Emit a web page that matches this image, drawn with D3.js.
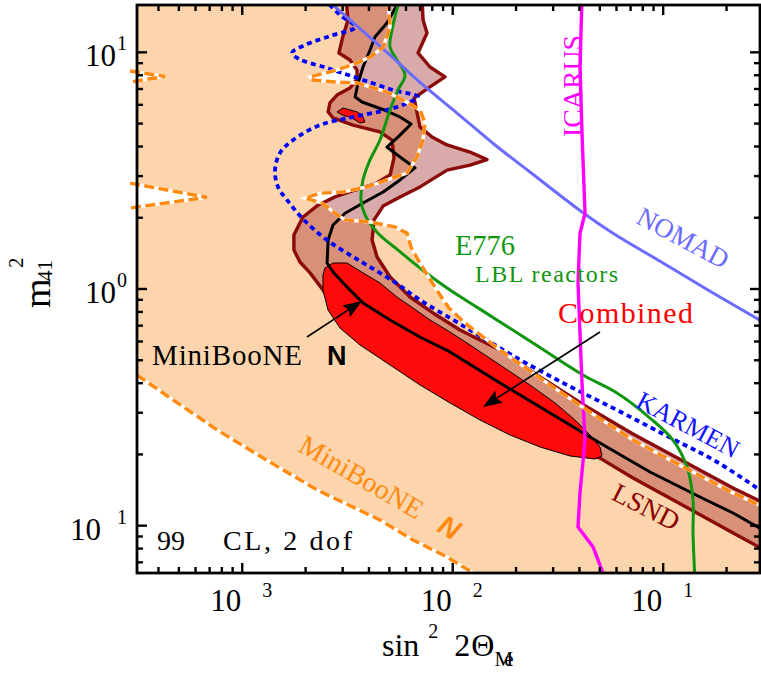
<!DOCTYPE html>
<html><head><meta charset="utf-8">
<script src="https://cdn.jsdelivr.net/npm/d3@7"></script>
<style>
body{margin:0;background:#fff}
svg{display:block}
text{font-family:"Liberation Serif","Times New Roman",serif}
</style>
</head><body><svg id="c" width="761" height="679" font-family="Liberation Serif, Times New Roman, serif"></svg>
<script>
// ---------------- DATA: [sin^2 2theta, dm^2_41] ----------------
const mbLower = [[3.16e-4,0.433],[4.69e-4,0.340],[7.59e-4,0.254],[1.31e-3,0.189],[2.27e-3,0.1415],[4.51e-3,0.1057],[6.48e-3,0.0870],[9.40e-3,0.0737],[1.25e-2,0.0631],[1.50e-2,0.0561]];
const mbUpper = [[4.93e-3,16.6],[5.04e-3,12.8],[4.67e-3,10.5],[4.05e-3,9.56],[3.51e-3,9.01],[2.82e-3,8.42],[2.10e-3,7.87],[2.17e-3,7.64],[2.82e-3,7.49],[3.51e-3,7.42],[4.05e-3,7.14],[4.87e-3,6.80],[5.80e-3,6.29],[6.99e-3,5.71],[7.39e-3,5.03],[7.22e-3,4.26],[6.77e-3,3.61],[6.07e-3,3.09],[4.87e-3,2.89],[3.92e-3,2.70],[3.01e-3,2.57],[2.34e-3,2.54],[1.99e-3,2.42],[2.39e-3,2.31],[2.76e-3,2.09],[3.08e-3,1.96],[4.05e-3,1.92],[5.32e-3,1.83],[6.07e-3,1.72],[6.34e-3,1.50],[6.84e-3,1.33],[7.47e-3,1.17],[8.51e-3,0.971],[9.60e-3,0.831],[1.144e-2,0.718],[1.456e-2,0.609],[1.678e-2,0.552],[2.81e-2,0.401],[4.35e-2,0.308],[7.19e-2,0.230],[0.1243,0.177],[0.2147,0.1375],[0.322,0.1165]];
const mbNotch1 = [[2.93e-4,8.34],[4.30e-4,7.91],[2.93e-4,7.49]];
const mbNotch2 = [[2.93e-4,2.80],[6.80e-4,2.44],[2.93e-4,2.20]];

const lsndOuter = [[3.11e-3,16.96],[3.18e-3,13.7],[3.01e-3,11.7],[2.88e-3,9.94],[3.25e-3,9.28],[3.51e-3,8.42],[3.51e-3,7.72],[3.25e-3,7.07],[2.82e-3,6.60],[2.61e-3,6.11],[2.56e-3,5.60],[2.70e-3,5.28],[3.36e-3,4.93],[4.51e-3,4.61],[5.15e-3,4.26],[5.26e-3,3.58],[5.04e-3,3.03],[4.27e-3,2.78],[3.44e-3,2.62],[2.76e-3,2.45],[2.29e-3,2.26],[1.94e-3,2.01],[1.76e-3,1.69],[1.76e-3,1.46],[1.88e-3,1.30],[2.10e-3,1.17],[2.42e-3,0.99],[2.67e-3,0.856],[3.63e-3,0.671],[5.62e-3,0.526],[9.71e-3,0.393],[1.68e-2,0.2935],[2.90e-2,0.230],[5.01e-2,0.193],[7.19e-2,0.159],[0.124,0.122],[0.215,0.0931],[0.322,0.0766]];
const lsndInner = [[7.15e-3,16.96],[7.23e-3,13.7],[7.55e-3,12.07],[6.84e-3,9.94],[7.80e-3,8.67],[9.19e-3,7.87],[7.80e-3,7.14],[6.55e-3,6.41],[6.99e-3,4.84],[7.97e-3,4.39],[9.40e-3,4.06],[1.208e-2,3.79],[1.456e-2,3.52],[1.208e-2,3.34],[9.40e-3,3.18],[6.99e-3,2.70],[5.62e-3,2.45],[4.67e-3,2.24],[4.23e-3,1.96],[4.14e-3,1.61],[4.37e-3,1.365],[5.04e-3,1.124],[6.27e-3,0.925],[8.06e-3,0.792],[1.083e-2,0.671],[1.678e-2,0.552],[2.60e-2,0.425],[4.35e-2,0.3173],[7.19e-2,0.244],[0.1243,0.1877],[0.2147,0.1443],[0.322,0.1211]];

const combined = [[2.473e-3,1.227],[2.70e-3,1.288],[3.145e-3,1.288],[3.748e-3,1.17],[4.513e-3,1.060],[5.437e-3,0.925],[6.478e-3,0.831],[7.80e-3,0.740],[9.709e-3,0.658],[1.208e-2,0.580],[1.678e-2,0.4775],[2.329e-2,0.393],[3.063e-2,0.330],[3.811e-2,0.2796],[4.490e-2,0.2416],[5.009e-2,0.2150],[5.120e-2,0.1970],[4.745e-2,0.1913],[3.608e-2,0.1970],[2.599e-2,0.2150],[1.872e-2,0.2416],[1.348e-2,0.2796],[9.709e-3,0.330],[6.993e-3,0.393],[5.036e-3,0.4775],[3.627e-3,0.580],[2.914e-3,0.684],[2.556e-3,0.815],[2.419e-3,0.990],[2.419e-3,1.146]];
const combinedIsland = [[2.821e-3,5.60],[3.011e-3,5.82],[3.511e-3,5.60],[3.708e-3,5.44],[3.830e-3,5.08],[3.627e-3,5.03],[3.323e-3,5.28],[2.978e-3,5.44]];

const lsndBest = [[5.50e-3,16.96],[5.44e-3,15.85],[4.87e-3,13.30],[4.27e-3,11.61],[4.05e-3,10.23],[3.75e-3,8.67],[3.55e-3,7.42],[3.44e-3,6.48],[3.71e-3,6.17],[4.87e-3,5.65],[5.62e-3,5.33],[6.34e-3,4.98],[5.62e-3,4.47],[4.87e-3,3.98],[5.62e-3,3.61],[6.62e-3,3.25],[5.62e-3,2.89],[4.67e-3,2.57],[3.75e-3,2.31],[3.08e-3,2.09],[2.70e-3,1.864],[2.56e-3,1.61],[2.53e-3,1.288],[2.70e-3,1.18],[3.145e-3,1.02],[3.75e-3,0.873],[5.04e-3,0.740],[6.99e-3,0.627],[9.71e-3,0.542],[1.678e-2,0.401],[2.90e-2,0.2993],[5.01e-2,0.2235],[8.66e-2,0.1686],[0.1496,0.1322],[0.2147,0.1131],[0.322,0.0922]];

const karmen = [[2.419e-3,16.96],[2.914e-3,14.38],[3.435e-3,12.8],[2.612e-3,11.72],[1.987e-3,10.74],[1.724e-3,9.94],[1.861e-3,9.37],[2.527e-3,8.59],[3.627e-3,7.72],[5.204e-3,6.93],[6.842e-3,6.48],[5.933e-3,6.05],[4.873e-3,5.71],[3.360e-3,5.33],[2.342e-3,4.93],[1.743e-3,4.26],[1.512e-3,3.76],[1.431e-3,3.18],[1.479e-3,2.70],[1.632e-3,2.38],[1.944e-3,1.976],[2.527e-3,1.61],[3.627e-3,1.313],[5.204e-3,1.081],[6.993e-3,0.899],[1.169e-2,0.684],[2.020e-2,0.511],[3.491e-2,0.393],[6.034e-2,0.308],[0.1043,0.2392],[0.1803,0.1858],[0.322,0.1322]];
const nomad = [[2.473e-3,16.96],[3.549e-3,12.8],[5.036e-3,9.74],[7.225e-3,7.28],[1.048e-2,5.54],[1.589e-2,4.06],[2.329e-2,3.12],[4.114e-2,2.115],[5.775e-2,1.72],[9.98e-2,1.288],[0.1725,0.962],[0.322,0.698]];
const e776 = [[5.618e-3,16.96],[5.147e-3,12.43],[5.036e-3,10.53],[5.437e-3,9.28],[5.933e-3,8.02],[5.497e-3,6.93],[5.036e-3,5.71],[4.513e-3,4.26],[4.046e-3,3.51],[3.748e-3,2.89],[3.667e-3,2.38],[3.830e-3,2.055],[4.416e-3,1.72],[5.497e-3,1.46],[7.386e-3,1.18],[9.709e-3,0.990],[1.276e-2,0.848],[1.678e-2,0.726],[2.407e-2,0.591],[4.159e-2,0.433],[6.034e-2,0.3636],[8.657e-2,0.285],[0.1113,0.230],[0.1298,0.1770],[0.1386,0.1284],[0.1386,0.0931],[0.1416,0.0589]];
const icarus = [[4.114e-2,16.96],[4.025e-2,8.67],[4.114e-2,4.56],[4.253e-2,2.09],[4.025e-2,1.72],[3.938e-2,1.060],[4.025e-2,0.652],[4.114e-2,0.401],[4.253e-2,0.230],[4.025e-2,0.1375],[3.938e-2,0.0988],[4.642e-2,0.0813],[5.177e-2,0.0631],[5.35e-2,0.0589]];

// tick labels (exponent text as printed; minus glyph not shown in the original)
const xTickValues = [1e-3, 1e-2, 1e-1];
const xTickExp = ["3", "2", "1"];
const yTickValues = [0.1, 1, 10];
const yTickExp = ["1", "0", "1"];
const yTickNeg = [true, false, false];

// labels placed in data coordinates
const labels = [
  {t:"ICARUS", x:3.728e-2, y:7.21, rot:-90, size:28, fill:"#ff00ff", len:102},
  {t:"NOMAD", x:0.1243, y:1.643, rot:28, size:27, fill:"#6b6bff", len:100},
  {t:"KARMEN", x:0.1312, y:0.2664, rot:28, size:26, fill:"#1212ff", len:112},
  {t:"LSND", x:8.29e-2, y:0.1199, rot:27, size:27, fill:"#8b0000", len:72}
];
const arrows = [
  {from:[2.031e-3,0.627], to:[3.708e-3,0.890]},
  {from:[5.009e-2,0.658], to:[1.393e-2,0.3173]}
];

// ---------------- CHART ----------------
const svg = d3.select("#c");
const L=137, R=760, T=5, B=573;
const x = d3.scaleLog().domain([Math.pow(10,-3.5), 0.2884]).range([L,R]);
const y = d3.scaleLog().domain([Math.pow(10,-1.2), Math.pow(10,1.2)]).range([B,T]);
const line = d3.line().x(d=>x(d[0])).y(d=>y(d[1]));
const smooth = d3.line().x(d=>x(d[0])).y(d=>y(d[1])).curve(d3.curveCatmullRom.alpha(0.5));

const defs = svg.append("defs");
defs.append("clipPath").attr("id","clip").append("rect").attr("x",L).attr("y",T).attr("width",R-L).attr("height",B-T);
defs.append("clipPath").attr("id","clipw").append("rect").attr("x",L-8).attr("y",T).attr("width",R-L+8).attr("height",B-T);

const g = svg.append("g").attr("clip-path","url(#clip)");
const gw = svg.append("g").attr("clip-path","url(#clipw)");

// MiniBooNE antineutrino allowed region (peach)
const peach = [[2.93e-4,17]].concat(mbUpper, [[0.322,0.05]], mbLower.slice().reverse(), mbNotch2.slice().reverse(), mbNotch1.slice().reverse());
g.append("path").attr("d", line(peach)+"Z").attr("fill","#fdd5ac");

// orange dashed boundaries
[mbUpper, mbLower, mbNotch1, mbNotch2].forEach(s=>{
  gw.append("path").attr("d",line(s)).attr("fill","none").attr("stroke","#fff").attr("stroke-width",3.4);
  gw.append("path").attr("d",line(s)).attr("fill","none").attr("stroke","#ff8a10").attr("stroke-width",3.4).attr("stroke-dasharray","10,4.5");
});

// LSND band
const lsnd = lsndOuter.concat(lsndInner.slice().reverse());
g.append("path").attr("d", line(lsnd)+"Z").attr("fill","rgba(160,42,42,0.40)").attr("stroke","#8b0a0a").attr("stroke-width",3.4).attr("stroke-linejoin","round");

// Combined region
[combined, combinedIsland].forEach(s=>{
  g.append("path").attr("d", line(s)+"Z").attr("fill","#ff0a0a").attr("stroke","#000").attr("stroke-width",1);
});

// black curve
g.append("path").attr("d",line(lsndBest)).attr("fill","none").attr("stroke","#000").attr("stroke-width",3).attr("stroke-linejoin","round");

// KARMEN dotted
g.append("path").attr("d",smooth(karmen)).attr("fill","none").attr("stroke","#0000ff").attr("stroke-width",3.8).attr("stroke-dasharray","5,4");
// E776
g.append("path").attr("d",smooth(e776)).attr("fill","none").attr("stroke","#109610").attr("stroke-width",3);
// NOMAD
g.append("path").attr("d",smooth(nomad)).attr("fill","none").attr("stroke","#6b6bff").attr("stroke-width",3);
// ICARUS
g.append("path").attr("d",line(icarus)).attr("fill","none").attr("stroke","#ff00ff").attr("stroke-width",3.4);

// ---------------- labels ----------------
labels.forEach(l=>{
  const px=x(l.x), py=y(l.y);
  svg.append("text").attr("transform",`translate(${px},${py}) rotate(${l.rot})`)
    .attr("text-anchor","middle").attr("dominant-baseline","central")
    .attr("font-size",l.size).attr("fill",l.fill)
    .attr("textLength",l.len).attr("lengthAdjust","spacingAndGlyphs").text(l.t);
});
svg.append("text").attr("x",x(1.025e-2)).attr("y",y(1.392)).attr("font-size",30).attr("fill","#109610")
  .attr("textLength",60).attr("lengthAdjust","spacingAndGlyphs").text("E776");
svg.append("text").attr("x",x(1.276e-2)).attr("y",y(1.070)).attr("font-size",24).attr("fill","#109610")
  .attr("textLength",143).attr("lengthAdjust","spacing").text("LBL  reactors");
svg.append("text").attr("x",x(3.165e-2)).attr("y",y(0.718)).attr("font-size",30).attr("fill","#ff0000")
  .attr("textLength",135).attr("lengthAdjust","spacing").text("Combined");
svg.append("text").attr("x",x(3.727e-4)).attr("y",y(0.4775)).attr("font-size",29).attr("fill","#000")
  .attr("textLength",150).attr("lengthAdjust","spacing").text("MiniBooNE");
svg.append("text").attr("x",x(2.527e-3)).attr("y",y(0.4775)).attr("font-size",27).attr("fill","#000")
  .attr("font-weight","bold").style("font-family","'Liberation Sans Narrow','Liberation Sans',sans-serif").text("N");
// orange MiniBooNE antineutrino label
{
  const px=x(4.513e-3), py=y(0.1457);
  const t = svg.append("text").attr("transform",`translate(${px},${py}) rotate(30)`)
    .attr("text-anchor","middle").attr("dominant-baseline","central").attr("font-size",28).attr("fill","#ff8a10");
  t.append("tspan").text("MiniBooNE");
  t.append("tspan").attr("dx",22).attr("font-weight","bold").style("font-family","'Liberation Sans Narrow','Liberation Sans',sans-serif").style("font-style","italic").text("N");
}
svg.append("text").attr("x",x(3.936e-4)).attr("y",y(0.0789)).attr("font-size",28).text("99");
svg.append("text").attr("x",x(8.101e-4)).attr("y",y(0.0789)).attr("font-size",28)
  .attr("textLength",129).attr("lengthAdjust","spacing").text("CL, 2 dof");

// arrows
arrows.forEach(a=>{
  const x1=x(a.from[0]), y1=y(a.from[1]), x2=x(a.to[0]), y2=y(a.to[1]);
  const ang=Math.atan2(y2-y1,x2-x1), hl=19, hw=7;
  const bx=x2-hl*Math.cos(ang), by=y2-hl*Math.sin(ang);
  svg.append("line").attr("x1",x1).attr("y1",y1).attr("x2",bx+4*Math.cos(ang)).attr("y2",by+4*Math.sin(ang)).attr("stroke","#000").attr("stroke-width",1.6);
  const nx=-Math.sin(ang), ny=Math.cos(ang);
  const nb=3;
  svg.append("path").attr("d",`M${x2},${y2}L${bx+nx*hw},${by+ny*hw}L${bx+nb*Math.cos(ang)},${by+nb*Math.sin(ang)}L${bx-nx*hw},${by-ny*hw}Z`).attr("fill","#000");
});

// ---------------- axes ----------------
const ax = svg.append("g");
ax.append("rect").attr("x",L).attr("y",T).attr("width",R-L).attr("height",B-T).attr("fill","none").attr("stroke","#000").attr("stroke-width",2.8);
function logTicks(sc){
  const [a,b]=sc.domain(); const out=[];
  for(let e=-4;e<=1;e++) for(let k=1;k<=9;k++){const v=k*Math.pow(10,e); if(v>=a*0.999&&v<=b*1.001) out.push({v,major:k===1});}
  return out;
}
logTicks(x).forEach(t=>{
  const px=x(t.v), len=t.major?10:6;
  ax.append("line").attr("x1",px).attr("x2",px).attr("y1",B).attr("y2",B-len).attr("stroke","#000").attr("stroke-width",2.4);
  ax.append("line").attr("x1",px).attr("x2",px).attr("y1",T).attr("y2",T+len).attr("stroke","#000").attr("stroke-width",2.4);
});
logTicks(y).forEach(t=>{
  const py=y(t.v), len=t.major?10:6;
  ax.append("line").attr("y1",py).attr("y2",py).attr("x1",L).attr("x2",L+len).attr("stroke","#000").attr("stroke-width",2.4);
  ax.append("line").attr("y1",py).attr("y2",py).attr("x1",R).attr("x2",R-len).attr("stroke","#000").attr("stroke-width",2.4);
});
xTickValues.forEach((v,i)=>{
  const px=x(v);
  ax.append("text").attr("x",px-1).attr("y",611).attr("text-anchor","end").attr("font-size",31).text("10");
  ax.append("text").attr("x",px+20).attr("y",597).attr("font-size",20).text(xTickExp[i]);
});
yTickValues.forEach((v,i)=>{
  const py=y(v);
  const neg=yTickNeg[i];
  ax.append("text").attr("x",neg?101:116).attr("y",py+14).attr("text-anchor","end").attr("font-size",31).text("10");
  ax.append("text").attr("x",117).attr("y",py-2).attr("font-size",20).text(yTickExp[i]);
});

// axis titles
const xt = svg.append("text").attr("x",382).attr("y",656).attr("font-size",32);
xt.append("tspan").text("sin");
xt.append("tspan").attr("dx",9).attr("dy",-18).attr("font-size",20).text("2");
xt.append("tspan").attr("dx",16).attr("dy",18).text("2");
xt.append("tspan").attr("dx",1).text("Θ");
xt.append("tspan").attr("dy",10).attr("font-size",21).attr("letter-spacing",-9).text("Μe");

const yt = svg.append("g").attr("transform","translate(50,0) rotate(-90)");
yt.append("text").attr("x",-308).attr("y",0).attr("font-size",38).text("m");
yt.append("text").attr("x",-268).attr("y",-27).attr("font-size",21).text("2");
yt.append("text").attr("x",-281).attr("y",2).attr("font-size",21).text("41");
</script></body></html>
